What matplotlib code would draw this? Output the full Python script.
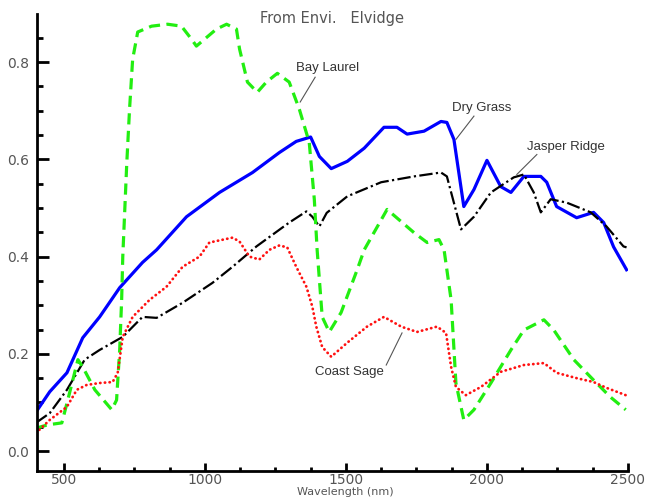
import numpy as np
import matplotlib.pyplot as plt
from matplotlib.ticker import MultipleLocator

# Spektraldata lest av bildet (bølgelengde nm, refleksjon)
dry_wl = [401, 450, 511, 567, 627, 698, 779, 829, 935, 1052, 1169, 1264, 1324, 1375, 1406,
          1448, 1505, 1565, 1635, 1681, 1717, 1777, 1837, 1858, 1883, 1918, 1954, 2000,
          2049, 2085, 2131, 2191, 2212, 2247, 2318, 2378, 2414, 2449, 2495]
dry_val = [0.080, 0.122, 0.161, 0.233, 0.276, 0.336, 0.388, 0.414, 0.482, 0.532, 0.573,
           0.614, 0.637, 0.646, 0.606, 0.581, 0.596, 0.623, 0.666, 0.666, 0.652, 0.658,
           0.678, 0.676, 0.641, 0.503, 0.538, 0.598, 0.544, 0.532, 0.565, 0.565, 0.553,
           0.503, 0.480, 0.491, 0.470, 0.420, 0.373]

jasper_wl = [401, 450, 511, 574, 627, 709, 779, 829, 921, 1027, 1098, 1183, 1299, 1360,
             1381, 1406, 1432, 1505, 1625, 1742, 1837, 1858, 1908, 1954, 2014, 2095, 2131,
             2166, 2191, 2226, 2283, 2368, 2424, 2484, 2495]
jasper_val = [0.058, 0.078, 0.126, 0.188, 0.208, 0.235, 0.276, 0.274, 0.305, 0.346, 0.379,
              0.421, 0.470, 0.493, 0.482, 0.462, 0.490, 0.524, 0.553, 0.565, 0.573, 0.565,
              0.456, 0.482, 0.532, 0.563, 0.569, 0.532, 0.491, 0.518, 0.511, 0.491, 0.462,
              0.421, 0.419]

laurel_wl = [401, 443, 493, 514, 550, 567, 610, 670, 687, 698, 705, 709, 723, 733, 744, 762,
             811, 868, 917, 953, 970, 1041, 1077, 1112, 1123, 1151, 1186, 1218, 1257, 1299,
             1335, 1370, 1388, 1398, 1416, 1441, 1483, 1540, 1565, 1646, 1742, 1788, 1830,
             1848, 1873, 1890, 1918, 1954, 2014, 2085, 2131, 2202, 2237, 2308, 2378, 2438,
             2492]
laurel_val = [0.047, 0.054, 0.058, 0.105, 0.188, 0.173, 0.126, 0.085, 0.105, 0.208, 0.311,
              0.400, 0.590, 0.703, 0.806, 0.862, 0.874, 0.878, 0.874, 0.847, 0.833, 0.868,
              0.878, 0.868, 0.827, 0.759, 0.738, 0.759, 0.777, 0.759, 0.703, 0.635, 0.518,
              0.414, 0.276, 0.245, 0.285, 0.373, 0.414, 0.497, 0.449, 0.429, 0.435, 0.414,
              0.311, 0.140, 0.064, 0.085, 0.140, 0.208, 0.249, 0.270, 0.249, 0.188, 0.146,
              0.111, 0.085]

sage_wl = [401, 450, 511, 546, 581, 627, 673, 691, 709, 744, 804, 864, 921, 981, 1016,
           1098, 1123, 1158, 1193, 1229, 1264, 1292, 1324, 1360, 1381, 1395, 1416, 1448,
           1505, 1575, 1635, 1696, 1752, 1823, 1855, 1873, 1890, 1925, 1979, 2049, 2131,
           2202, 2247, 2318, 2378, 2424, 2492]
sage_val = [0.037, 0.064, 0.091, 0.126, 0.136, 0.140, 0.142, 0.161, 0.235, 0.276, 0.311,
            0.338, 0.379, 0.400, 0.429, 0.439, 0.431, 0.400, 0.394, 0.414, 0.423, 0.419,
            0.379, 0.338, 0.297, 0.256, 0.214, 0.194, 0.223, 0.256, 0.276, 0.256, 0.245,
            0.256, 0.243, 0.173, 0.132, 0.115, 0.132, 0.163, 0.177, 0.181, 0.161, 0.150,
            0.142, 0.130, 0.115]

fig = plt.figure(figsize=(6.45, 4.97), dpi=100)
ax = fig.add_axes([0.0574, 0.0523, 0.9162, 0.9195])

ax.plot(dry_wl, dry_val, color='#0000ff', lw=2.3, solid_joinstyle='round')
ax.plot(jasper_wl, jasper_val, color='black', lw=1.6, linestyle=(0, (6, 1.5, 1, 1.5)))
ax.plot(laurel_wl, laurel_val, color='#22ee11', lw=2.3, linestyle=(0, (3.5, 2)))
ax.plot(sage_wl, sage_val, color='#ff1111', lw=2, linestyle=(0, (0.1, 1.6)),
        dash_capstyle='round')

ax.set_xlim(405, 2500)
ax.set_ylim(-0.041, 0.899)

# Akser
for s in ['top', 'right']:
    ax.spines[s].set_visible(False)
for s in ['left', 'bottom']:
    ax.spines[s].set_linewidth(2)
ax.xaxis.set_major_locator(MultipleLocator(500))
ax.xaxis.set_minor_locator(MultipleLocator(125))
ax.yaxis.set_major_locator(MultipleLocator(0.2))
ax.yaxis.set_minor_locator(MultipleLocator(0.05))
ax.tick_params(axis='y', which='major', direction='in', length=8.5, width=2, pad=6,
               labelsize=10, labelcolor='#555555')
ax.tick_params(axis='y', which='minor', direction='in', length=4.5, width=2)
ax.tick_params(axis='x', which='major', direction='in', length=6, width=2, pad=1.5,
               labelsize=10, labelcolor='#555555')
ax.tick_params(axis='x', which='minor', direction='in', length=3, width=2)
ax.yaxis.set_major_formatter(plt.FuncFormatter(lambda v, p: f'{v:.1f}'))

fig.text(0.535, 0.001, 'Wavelength (nm)', ha='center', va='bottom',
         fontsize=8, color='#555555')
fig.text(0.515, 0.963, 'From Envi.   Elvidge', ha='center', va='center',
         fontsize=10.5, color='#555555')

# Etiketter med linjer
lab = dict(fontsize=9.5, family='Liberation Sans', color='#333333', ha='center', va='center')
lin = dict(color='#555555', lw=0.8)
ax.text(1434, 0.787, 'Bay Laurel', **lab)
ax.plot([1391, 1338], [0.769, 0.718], **lin)
ax.text(1982, 0.705, 'Dry Grass', **lab)
ax.plot([1954, 1890], [0.689, 0.641], **lin)
ax.text(2279, 0.625, 'Jasper Ridge', **lab)
ax.plot([2177, 2106], [0.610, 0.569], **lin)
ax.text(1512, 0.163, 'Coast Sage', **lab)
ax.plot([1643, 1699], [0.177, 0.243], **lin)

plt.savefig('out.png', dpi=100)
